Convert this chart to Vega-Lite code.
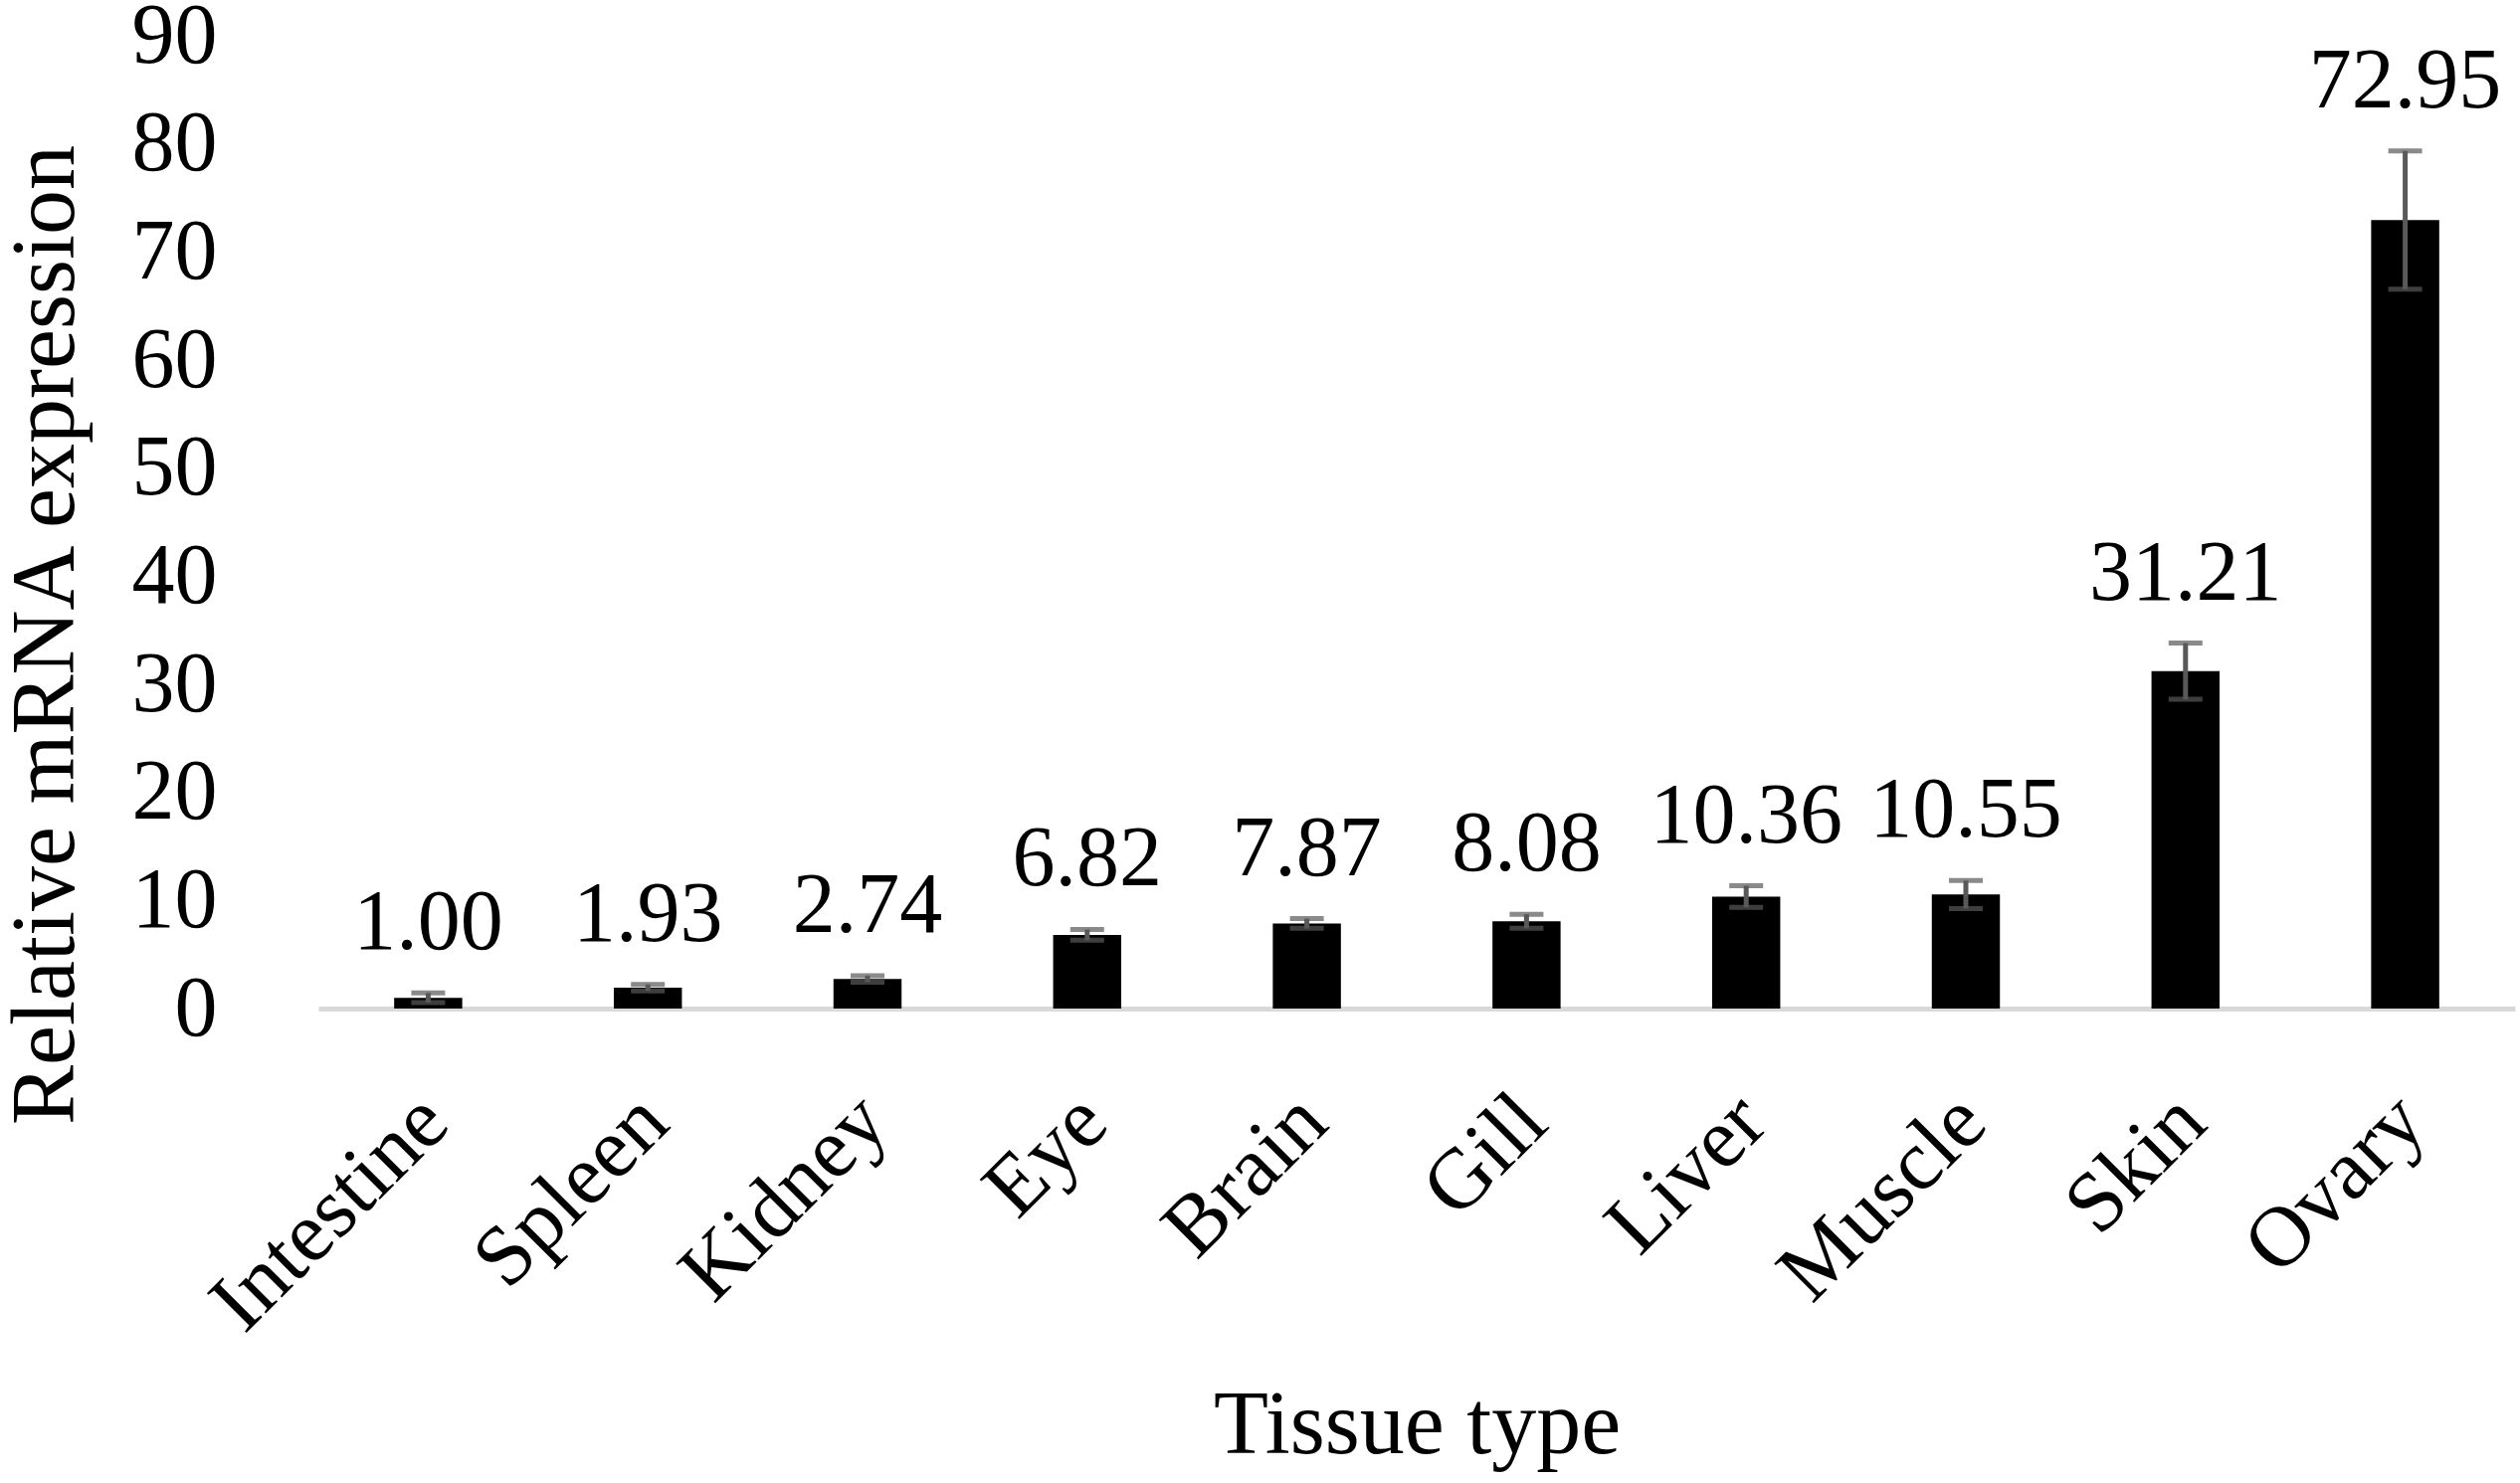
{
  "$schema": "https://vega.github.io/schema/vega-lite/v6.json",
  "description": "Relative mRNA expression by tissue type, bars with error bars and value labels.",
  "autosize": {"type": "none"},
  "padding": {"left": 320, "top": 36, "right": 5, "bottom": 477},
  "width": 2208,
  "height": 978,
  "background": "white",
  "data": {
    "values": [
      {"tissue": "Intestine", "value": 1.00, "err": 0.45},
      {"tissue": "Spleen", "value": 1.93, "err": 0.3},
      {"tissue": "Kidney", "value": 2.74, "err": 0.3},
      {"tissue": "Eye", "value": 6.82, "err": 0.5},
      {"tissue": "Brain", "value": 7.87, "err": 0.45},
      {"tissue": "Gill", "value": 8.08, "err": 0.65},
      {"tissue": "Liver", "value": 10.36, "err": 1.0},
      {"tissue": "Muscle", "value": 10.55, "err": 1.3},
      {"tissue": "Skin", "value": 31.21, "err": 2.6},
      {"tissue": "Ovary", "value": 72.95, "err": 6.4}
    ]
  },
  "encoding": {
    "x": {
      "field": "tissue",
      "type": "nominal",
      "sort": null,
      "title": "Tissue type",
      "scale": {"paddingInner": 0.69, "paddingOuter": 0.345},
      "axis": {
        "labelAngle": -45,
        "labelAlign": "right",
        "labelBaseline": "middle",
        "labelPadding": 100,
        "labelOffset": 6,
        "labelLimit": 0,
        "labelFontSize": 86,
        "labelFont": "Liberation Serif",
        "labelColor": "black",
        "ticks": false,
        "tickSize": 0,
        "domainColor": "#d9d9d9",
        "domainWidth": 5,
        "titleFont": "Liberation Serif",
        "titleFontSize": 90,
        "titleFontWeight": "normal",
        "titleColor": "black",
        "titleX": 1104,
        "titleY": 446,
        "titleAlign": "center",
        "titleBaseline": "alphabetic"
      }
    }
  },
  "layer": [
    {
      "mark": {"type": "bar", "color": "black"},
      "encoding": {
        "y": {
          "field": "value",
          "type": "quantitative",
          "title": "Relative mRNA expression",
          "scale": {"domain": [0, 90], "nice": false},
          "axis": {
            "values": [0, 10, 20, 30, 40, 50, 60, 70, 80, 90],
            "grid": false,
            "domain": false,
            "ticks": false,
            "tickSize": 0,
            "labelPadding": 102,
            "labelFontSize": 86,
            "labelFont": "Liberation Serif",
            "labelColor": "black",
            "titleFont": "Liberation Serif",
            "titleFontSize": 90,
            "titleFontWeight": "normal",
            "titleColor": "black",
            "titleAngle": -90,
            "titleX": -247,
            "titleY": 602,
            "titleAlign": "center",
            "titleBaseline": "alphabetic",
            "titleLimit": 0
          }
        }
      }
    },
    {
      "mark": {
        "type": "errorbar",
        "color": "#595959",
        "ticks": {"size": 34, "thickness": 5, "color": "#595959"},
        "rule": {"strokeWidth": 5, "color": "#595959"}
      },
      "encoding": {
        "y": {"field": "value", "type": "quantitative", "title": "Relative mRNA expression"},
        "yError": {"field": "err"}
      }
    },
    {
      "transform": [{"calculate": "datum.value + datum.err", "as": "top"}],
      "mark": {
        "type": "text",
        "font": "Liberation Serif",
        "fontSize": 86,
        "color": "black",
        "baseline": "alphabetic",
        "dy": -44
      },
      "encoding": {
        "y": {"field": "top", "type": "quantitative", "title": "Relative mRNA expression"},
        "text": {"field": "value", "type": "quantitative", "format": ".2f"}
      }
    }
  ],
  "config": {"view": {"stroke": null}}
}
